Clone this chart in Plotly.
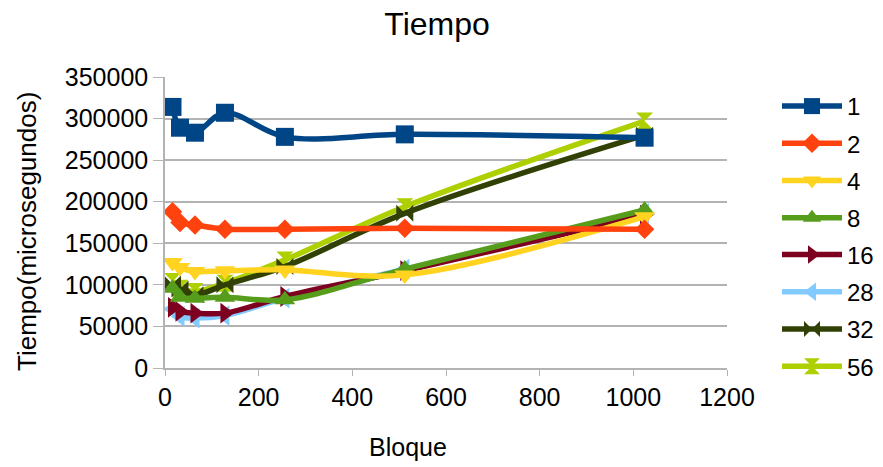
import plotly.graph_objects as go

# Block sizes on the x axis
bloque = [16, 32, 64, 128, 256, 512, 1024]

# Measured times (microseconds) for each thread count
t1 = [314000, 289000, 283000, 307000, 278000, 281000, 277000]
t2 = [188000, 175000, 172000, 167000, 167000, 168000, 167000]
t4 = [127000, 121000, 116000, 117000, 118000, 112000, 182000]
t8 = [96000, 85000, 84000, 85000, 82000, 119000, 190000]
t16 = [73000, 68000, 66000, 66000, 86000, 117000, 184000]
t28 = [71000, 62000, 60000, 63000, 84000, 119000, 186000]
t32 = [101000, 95000, 88000, 100000, 122000, 186000, 280000]
t56 = [104000, 96000, 92000, 102000, 130000, 194000, 297000]

series = [
    ("1", t1, "#004586", "square", 18),
    ("2", t2, "#ff420e", "diamond", 15),
    ("4", t4, "#ffd320", "triangle-down", 18),
    ("8", t8, "#579d1c", "triangle-up", 18),
    ("16", t16, "#7e0021", "triangle-right", 18),
    ("28", t28, "#83caff", "triangle-left", 18),
    ("32", t32, "#314004", "bowtie", 17),
    ("56", t56, "#aecf00", "hourglass", 17),
]

FONT = "Liberation Sans, Arial, sans-serif"
PLOT_TOP, PLOT_BOTTOM = 77, 368   # plot area in pixels
PLOT_H = PLOT_BOTTOM - PLOT_TOP


def paper_y(px):
    return (PLOT_BOTTOM - px) / PLOT_H


fig = go.Figure()
# Draw the last series first so that series "1" ends up on top,
# while the legend keeps the natural order via legendrank.
# The legend is split into two stacked blocks of four entries.
for rank in reversed(range(len(series))):
    name, vals, color, symbol, size = series[rank]
    fig.add_trace(go.Scatter(
        x=bloque, y=vals, name=name, legendgroup=name, legendrank=rank + 1,
        legend="legend" if rank < 4 else "legend2",
        mode="lines+markers",
        line=dict(color=color, width=5.5, shape="spline", smoothing=1),
        marker=dict(color=color, symbol=symbol, size=size, line=dict(width=0)),
    ))

legend_style = dict(x=777 / 883, xref="container", xanchor="left",
                    yanchor="top",
                    font=dict(family=FONT, size=24, color="black"),
                    itemwidth=60, tracegroupgap=3, traceorder="grouped",
                    bgcolor="rgba(0,0,0,0)")

grid = "#b3b3b3"
fig.update_layout(
    width=883, height=467,
    margin=dict(l=165, r=156, t=PLOT_TOP, b=467 - PLOT_BOTTOM),
    paper_bgcolor="white", plot_bgcolor="white",
    font=dict(family=FONT, size=25, color="black"),
    title=dict(text="Tiempo", x=0.495, xref="container", xanchor="center",
               y=0.95, yref="container", yanchor="middle",
               font=dict(family=FONT, size=32, color="black")),
    showlegend=True,
    legend=dict(legend_style, y=paper_y(84)),
    legend2=dict(legend_style, y=paper_y(232.5)),
    xaxis=dict(range=[0, 1200], dtick=200, tick0=0, showgrid=False,
               showline=True, linecolor=grid, linewidth=1.5,
               ticks="outside", ticklen=6, tickcolor=grid,
               zeroline=False),
    yaxis=dict(range=[0, 350000], dtick=50000, tick0=0,
               showgrid=True, gridcolor=grid, gridwidth=1.5,
               showline=True, linecolor=grid, linewidth=1.5,
               ticks="outside", ticklen=10, tickcolor=grid,
               zeroline=False, tickformat="d"),
    annotations=[
        dict(text="Bloque", xref="paper", yref="paper",
             x=(408 - 165) / 562, y=paper_y(447),
             xanchor="center", yanchor="middle", showarrow=False,
             font=dict(family=FONT, size=25, color="black")),
        dict(text="Tiempo(microsegundos)", xref="paper", yref="paper",
             x=-(165 - 27) / 562, y=paper_y(232), textangle=-90,
             xanchor="center", yanchor="middle", showarrow=False,
             font=dict(family=FONT, size=26, color="black")),
    ],
)

fig.write_html("out.html")
